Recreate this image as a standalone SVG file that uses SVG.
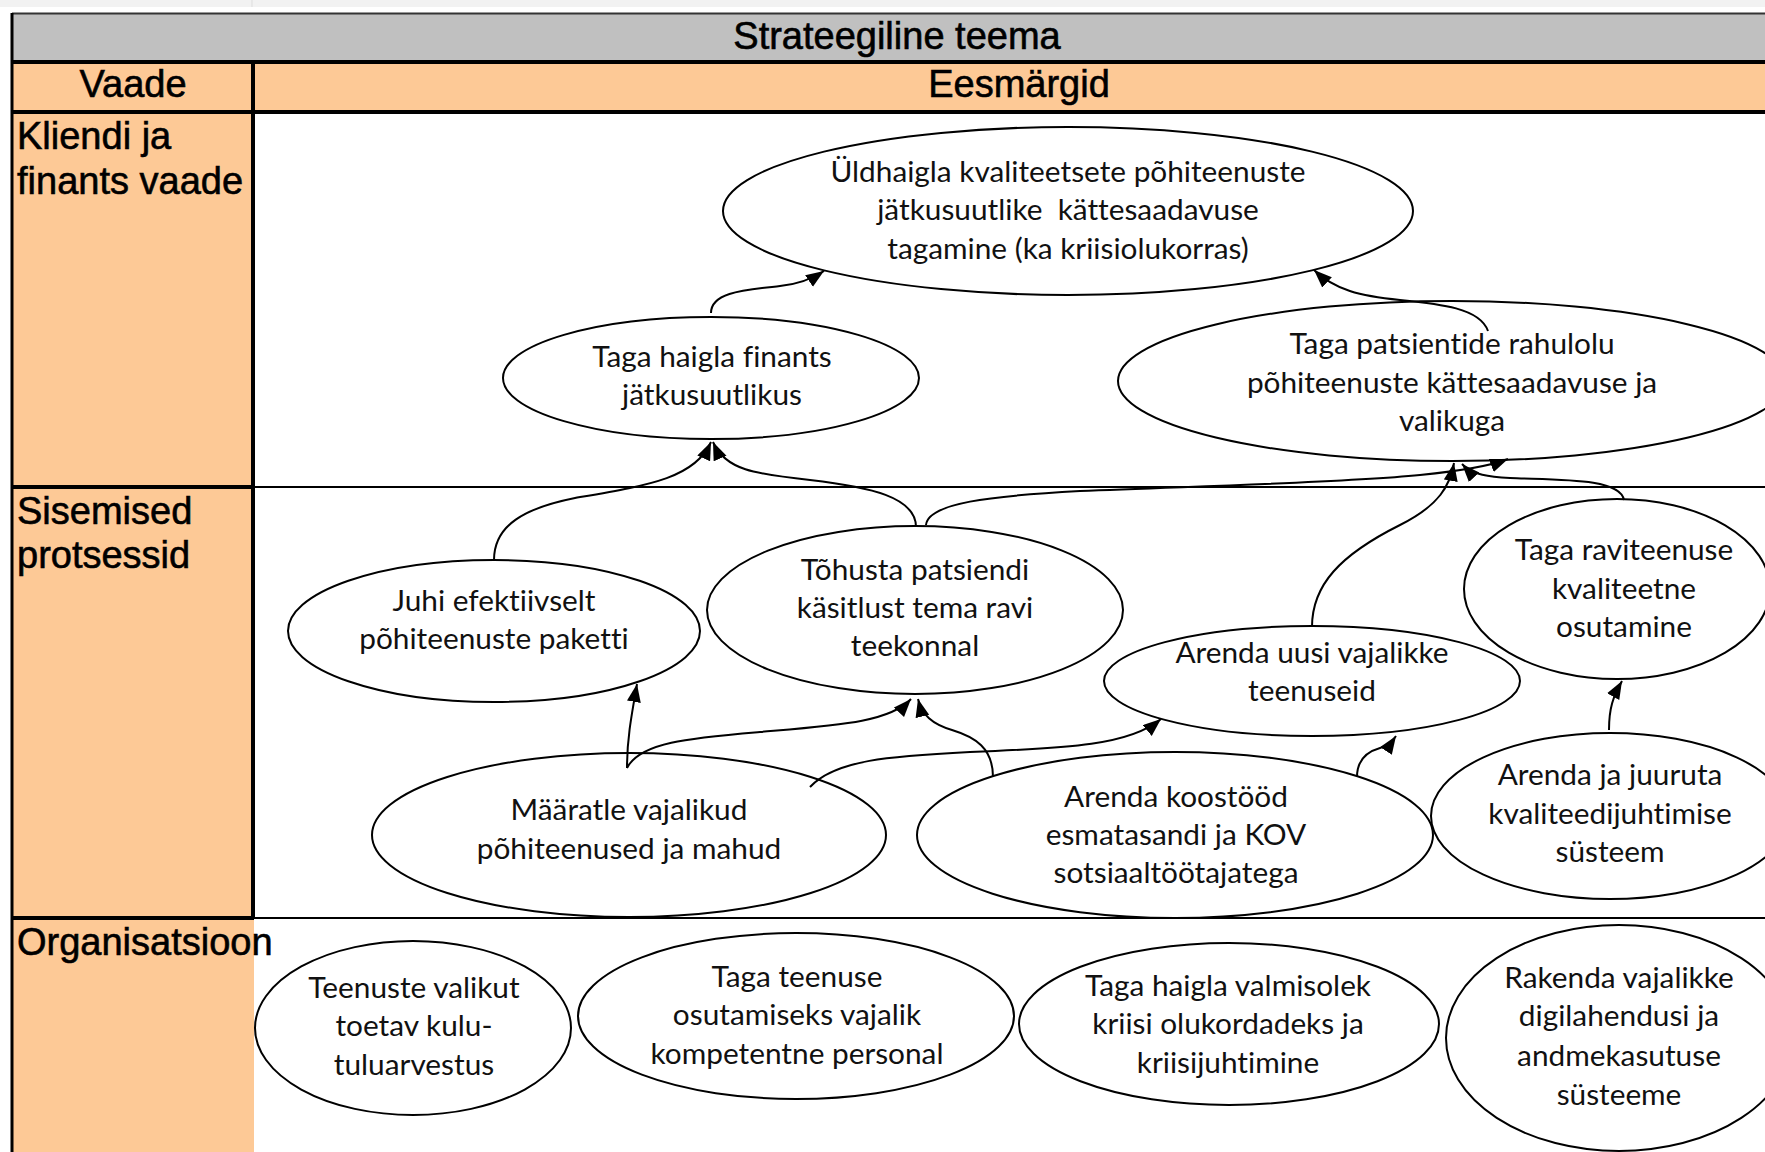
<svg xmlns="http://www.w3.org/2000/svg" width="1765" height="1152" viewBox="0 0 1765 1152">
<style>
.hdr{font-family:"Liberation Sans",Arial,sans-serif;font-size:38px;fill:#000;stroke:#000;stroke-width:0.6px}
.lbl{font-family:"Liberation Sans",Arial,sans-serif;font-size:38px;fill:#000;stroke:#000;stroke-width:0.6px}
.node ellipse{fill:none;stroke:#000;stroke-width:2}
.node text{font-family:Lato,"Open Sans",sans-serif;font-size:29.8px;fill:#111;text-anchor:middle;font-variant-ligatures:none;font-feature-settings:"liga" 0}
.conn path{fill:none;stroke:#000;stroke-width:2}
</style>
<defs>
<marker id="ah" markerUnits="userSpaceOnUse" markerWidth="20" markerHeight="16" refX="18" refY="7" orient="auto">
<path d="M0,0 L18,7 L0,14 z" fill="#000"/>
</marker>
</defs>
<rect x="0" y="0" width="1765" height="1152" fill="#fff"/>
<rect x="0" y="0" width="1765" height="7" fill="#f2f2f2"/>
<line x1="252" y1="0" x2="252" y2="7" stroke="#ddd" stroke-width="1"/>
<g id="table">
<rect x="12" y="13" width="1753" height="49" fill="#c0c0c0"/>
<rect x="12" y="62" width="1753" height="50" fill="#fdc996"/>
<rect x="12" y="112" width="242" height="1040" fill="#fdc996"/>
<line x1="12" y1="13.5" x2="1765" y2="13.5" stroke="#333" stroke-width="2"/>
<line x1="12" y1="62" x2="1765" y2="62" stroke="#000" stroke-width="4"/>
<line x1="12" y1="112" x2="1765" y2="112" stroke="#000" stroke-width="4"/>
<line x1="12" y1="13" x2="12" y2="1152" stroke="#000" stroke-width="3"/>
<line x1="253" y1="62" x2="253" y2="919" stroke="#000" stroke-width="4"/>
<line x1="12" y1="487" x2="254" y2="487" stroke="#000" stroke-width="4"/>
<line x1="254" y1="487" x2="1765" y2="487" stroke="#000" stroke-width="2"/>
<line x1="12" y1="918" x2="254" y2="918" stroke="#000" stroke-width="4"/>
<line x1="254" y1="918" x2="1765" y2="918" stroke="#000" stroke-width="2"/>
<text class="hdr" x="897" y="49" text-anchor="middle">Strateegiline teema</text>
<text class="hdr" x="133" y="97" text-anchor="middle">Vaade</text>
<text class="hdr" x="1019" y="97" text-anchor="middle">Eesmärgid</text>
<text class="lbl" x="17" y="149">Kliendi ja</text>
<text class="lbl" x="17" y="194">finants vaade</text>
<text class="lbl" x="17" y="524">Sisemised</text>
<text class="lbl" x="17" y="568">protsessid</text>
<text class="lbl" x="17" y="955">Organisatsioon</text>
</g>
<g id="n1" class="node"><ellipse cx="1068" cy="211" rx="345" ry="84"/>
<text x="1068" y="182">Üldhaigla kvaliteetsete põhiteenuste</text>
<text x="1068" y="220" xml:space="preserve">jätkusuutlike  kättesaadavuse</text>
<text x="1068" y="259">tagamine (ka kriisiolukorras)</text></g>
<g id="n2" class="node"><ellipse cx="711" cy="378" rx="208" ry="61"/>
<text x="712" y="367">Taga haigla finants</text>
<text x="712" y="405">jätkusuutlikus</text></g>
<g id="n3" class="node"><ellipse cx="1452" cy="381" rx="334" ry="80"/>
<text x="1452" y="354">Taga patsientide rahulolu</text>
<text x="1452" y="393">põhiteenuste kättesaadavuse ja</text>
<text x="1452" y="431">valikuga</text></g>
<g id="n4" class="node"><ellipse cx="494" cy="631" rx="206" ry="71"/>
<text x="494" y="611">Juhi efektiivselt</text>
<text x="494" y="649">põhiteenuste paketti</text></g>
<g id="n5" class="node"><ellipse cx="915" cy="610" rx="208" ry="84"/>
<text x="915" y="580">Tõhusta patsiendi</text>
<text x="915" y="618">käsitlust tema ravi</text>
<text x="915" y="656">teekonnal</text></g>
<g id="n6" class="node"><ellipse cx="1312" cy="681" rx="208" ry="55"/>
<text x="1312" y="663">Arenda uusi vajalikke</text>
<text x="1312" y="701">teenuseid</text></g>
<g id="n7" class="node"><ellipse cx="1617" cy="589" rx="153" ry="90"/>
<text x="1624" y="560">Taga raviteenuse</text>
<text x="1624" y="599">kvaliteetne</text>
<text x="1624" y="637">osutamine</text></g>
<g id="n8" class="node"><ellipse cx="629" cy="835" rx="257" ry="82"/>
<text x="629" y="820">Määratle vajalikud</text>
<text x="629" y="859">põhiteenused ja mahud</text></g>
<g id="n9" class="node"><ellipse cx="1175" cy="835" rx="258" ry="83"/>
<text x="1176" y="807">Arenda koostööd</text>
<text x="1176" y="845">esmatasandi ja KOV</text>
<text x="1176" y="883">sotsiaaltöötajatega</text></g>
<g id="n10" class="node"><ellipse cx="1610" cy="816" rx="179" ry="83"/>
<text x="1610" y="785">Arenda ja juuruta</text>
<text x="1610" y="824">kvaliteedijuhtimise</text>
<text x="1610" y="862">süsteem</text></g>
<g id="n11" class="node"><ellipse cx="413" cy="1028" rx="158" ry="87"/>
<text x="414" y="998">Teenuste valikut</text>
<text x="414" y="1036">toetav kulu-</text>
<text x="414" y="1075">tuluarvestus</text></g>
<g id="n12" class="node"><ellipse cx="796" cy="1016" rx="218" ry="83"/>
<text x="797" y="987">Taga teenuse</text>
<text x="797" y="1025">osutamiseks vajalik</text>
<text x="797" y="1064">kompetentne personal</text></g>
<g id="n13" class="node"><ellipse cx="1229" cy="1024" rx="210" ry="81"/>
<text x="1228" y="996">Taga haigla valmisolek</text>
<text x="1228" y="1034">kriisi olukordadeks ja</text>
<text x="1228" y="1073">kriisijuhtimine</text></g>
<g id="n14" class="node"><ellipse cx="1619" cy="1038" rx="173" ry="113"/>
<text x="1619" y="988">Rakenda vajalikke</text>
<text x="1619" y="1026">digilahendusi ja</text>
<text x="1619" y="1066">andmekasutuse</text>
<text x="1619" y="1105">süsteeme</text></g>
<g id="connectors" class="conn">
<path marker-end="url(#ah)" d="M711,313 C711,292 745,290 780,286 C800,284 812,279 824,271"/>
<path marker-end="url(#ah)" d="M494,560 C494,525 525,508 575,498 C650,485 695,478 711,442"/>
<path marker-end="url(#ah)" d="M916,527 C916,497 870,487 810,480 C755,474 725,470 713,442"/>
<path marker-end="url(#ah)" d="M926,525 C928,503 990,496 1080,491 C1200,486 1340,483 1420,475 C1460,471 1490,466 1508,459"/>
<path marker-end="url(#ah)" d="M1312,627 C1312,585 1340,555 1400,525 C1440,505 1450,485 1454,463"/>
<path marker-end="url(#ah)" d="M1624,500 C1620,478 1560,480 1510,478 C1490,477 1472,475 1462,464"/>
<path marker-end="url(#ah)" d="M1488,331 C1480,308 1440,304 1400,300 C1360,296 1335,290 1314,270"/>
<path marker-end="url(#ah)" d="M627,768 C627,740 631,718 637,684"/>
<path marker-end="url(#ah)" d="M627,768 C640,742 690,738 760,732 C840,725 890,722 911,699"/>
<path marker-end="url(#ah)" d="M993,777 C993,748 975,737 952,730 C932,724 922,715 918,699"/>
<path marker-end="url(#ah)" d="M810,787 C835,760 890,756 970,752 C1070,748 1130,745 1161,719"/>
<path marker-end="url(#ah)" d="M1357,777 C1357,760 1366,752 1380,748 C1388,746 1392,742 1396,736"/>
<path marker-end="url(#ah)" d="M1609,730 C1609,708 1613,697 1622,681"/>
</g>
</svg>
